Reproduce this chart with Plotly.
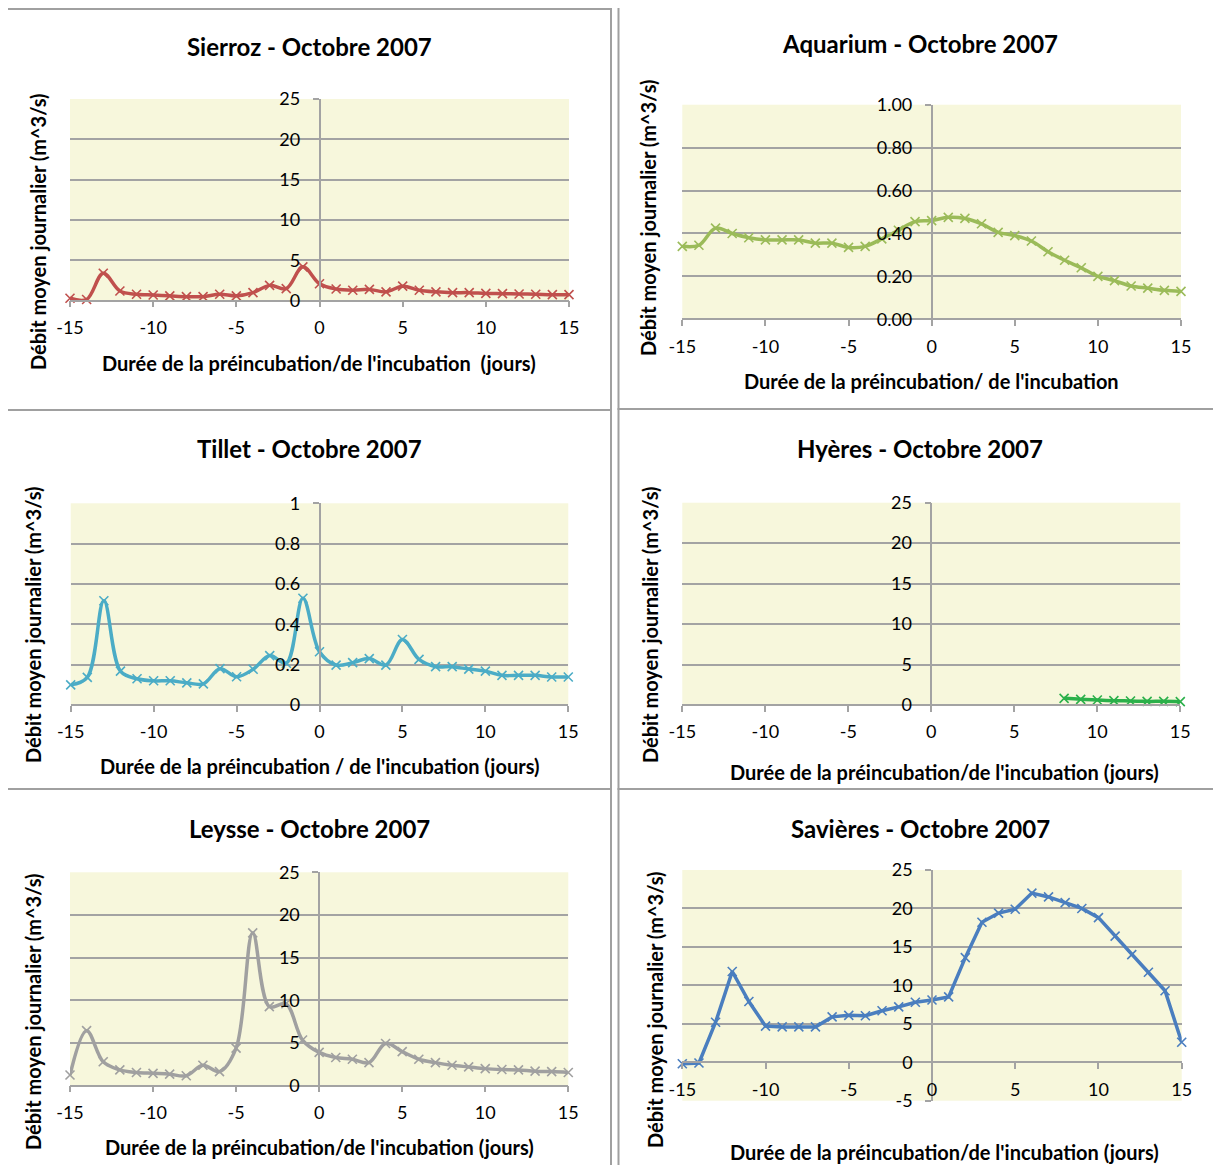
import plotly.graph_objects as go

W, H = 1221, 1165
OFF = 8  # page body margin of the HTML page
FW, FH = W - OFF, H - OFF

days = list(range(-15, 16))
x_ticks = [-15, -10, -5, 0, 5, 10, 15]

sierroz = [0.3, 0.15, 3.4, 1.2, 0.8, 0.7, 0.6, 0.5, 0.5, 0.8, 0.6, 1.0, 1.9, 1.5, 4.2,
           2.1, 1.45, 1.3, 1.4, 1.1, 1.8, 1.3, 1.1, 1.0, 1.0, 0.9, 0.87, 0.83, 0.8, 0.75, 0.75]
aquarium = [0.34, 0.345, 0.425, 0.40, 0.38, 0.37, 0.37, 0.37, 0.355, 0.355, 0.335, 0.34, 0.375, 0.415, 0.455,
            0.46, 0.475, 0.47, 0.445, 0.405, 0.39, 0.365, 0.315, 0.275, 0.24, 0.20, 0.18, 0.155, 0.145, 0.135, 0.13]
tillet = [0.10, 0.137, 0.517, 0.168, 0.13, 0.12, 0.12, 0.11, 0.105, 0.18, 0.14, 0.177, 0.245, 0.207, 0.529,
          0.264, 0.198, 0.21, 0.23, 0.198, 0.325, 0.226, 0.19, 0.19, 0.178, 0.168, 0.147, 0.147, 0.147, 0.139, 0.139]
hyeres_days = [8, 9, 10, 11, 12, 13, 14, 15]
hyeres = [0.82, 0.7, 0.62, 0.54, 0.5, 0.45, 0.45, 0.41]
leysse = [1.25, 6.45, 2.8, 1.85, 1.55, 1.45, 1.35, 1.17, 2.4, 1.65, 4.4, 17.9, 9.26, 9.6, 5.35,
          3.9, 3.3, 3.1, 2.7, 4.95, 4.0, 3.1, 2.7, 2.4, 2.2, 2.0, 1.9, 1.85, 1.7, 1.65, 1.55]
savieres = [-0.2, -0.1, 5.2, 11.8, 7.9, 4.7, 4.6, 4.6, 4.6, 5.9, 6.1, 6.05, 6.7, 7.2, 7.8,
            8.1, 8.5, 13.6, 18.2, 19.4, 19.9, 22.0, 21.5, 20.75, 20.0, 18.8, 16.4, 14.0, 11.7, 9.3, 2.6]

y_ticks_25 = [0, 5, 10, 15, 20, 25]
y_ticks_1 = [0, 0.2, 0.4, 0.6, 0.8, 1]
y_ticks_sav = [-5, 0, 5, 10, 15, 20, 25]

titles = ["Sierroz - Octobre 2007", "Aquarium - Octobre 2007", "Tillet - Octobre 2007",
          "Hyères - Octobre 2007", "Leysse - Octobre 2007", "Savières - Octobre 2007"]
x_titles = ["Durée de la préincubation/de l'incubation  (jours)",
            "Durée de la préincubation/ de l'incubation",
            "Durée de la préincubation / de l'incubation (jours)",
            "Durée de la préincubation/de l'incubation (jours)",
            "Durée de la préincubation/de l'incubation (jours)",
            "Durée de la préincubation/de l'incubation (jours)"]
y_title = "Débit moyen journalier (m^3/s)"

series = [
    (days, sierroz, "#C0504D", "spline", [0, 25], y_ticks_25, "{:g}"),
    (days, aquarium, "#9BBB59", "spline", [0, 1], y_ticks_1, "{:.2f}"),
    (days, tillet, "#4BACC6", "spline", [0, 1], y_ticks_1, "{:g}"),
    (hyeres_days, hyeres, "#2BB04A", "spline", [0, 25], y_ticks_25, "{:g}"),
    (days, leysse, "#A0A0A0", "spline", [0, 25], y_ticks_25, "{:g}"),
    (days, savieres, "#4A7EBF", "linear", [-5, 25], y_ticks_sav, "{:g}"),
]

# layout geometry (page pixels): plot box x0, x1, ytop, ybottom
boxes = [(70, 569, 99, 300.7), (682.3, 1181, 104.7, 319.3), (70.7, 568.3, 503.3, 705),
         (682.3, 1180.3, 502.7, 705), (70, 568.3, 872.3, 1085.7), (682.3, 1181.7, 870, 1100.7)]
title_pos = [(309, 47), (920, 43), (309, 448), (920, 448), (309, 828), (920, 828)]
xt_pos = [(319, 363), (931, 381), (319, 766), (944, 772), (319, 1147), (944, 1152)]
yt_pos = [(38, 232), (648, 218), (33, 625), (650, 625), (33, 1012), (655, 1010)]
frames = [(6.5, 9, 611, 410), (618.5, 6, 1225, 409), (6.5, 410, 611, 789),
          (618.5, 409, 1225, 789), (6.5, 789, 611, 1170), (618.5, 789, 1225, 1170)]

FONT = "Lato"
GRID = "#A3A3A3"


def px(x):
    return (x - OFF) / FW


def py(y):
    return 1 - (y - OFF) / FH


fig = go.Figure()
layout = dict(width=FW, height=FH, autosize=False, margin=dict(l=0, r=0, t=0, b=0, pad=0),
              paper_bgcolor="white", plot_bgcolor="#F7F7DC", showlegend=False,
              font=dict(family=FONT, color="black"))
annotations = []
shapes = []

for i, (xs, ys, col, shp, yr, yt_vals, fmt) in enumerate(series):
    n = "" if i == 0 else str(i + 1)
    x0, x1, yt, yb = boxes[i]
    fig.add_trace(go.Scatter(
        x=xs, y=ys, mode="lines+markers", xaxis="x" + n, yaxis="y" + n,
        line=dict(color=col, width=3.5, shape=shp, smoothing=1.0),
        marker=dict(symbol="x-thin", size=9, line=dict(color=col, width=1.6)),
        cliponaxis=False))
    zero_x = x0 + (0 - (-15)) / 30 * (x1 - x0)
    zero_y = yb - (0 - yr[0]) / (yr[1] - yr[0]) * (yb - yt)
    layout["xaxis" + n] = dict(
        domain=[px(x0), px(x1)], range=[-15, 15], tickvals=x_ticks,
        ticktext=[str(v) for v in x_ticks], automargin=False,
        anchor="free", position=py(zero_y), showgrid=False, zeroline=False,
        showline=True, linecolor=GRID, linewidth=1.5,
        ticks="outside", ticklen=6, tickcolor=GRID, tickwidth=1.5,
        ticklabelstandoff=5, tickfont=dict(size=18, family=FONT, color="black"),
        fixedrange=True)
    layout["yaxis" + n] = dict(
        domain=[py(yb), py(yt)], range=yr, tickvals=yt_vals,
        ticktext=[fmt.format(v) for v in yt_vals], automargin=False,
        anchor="free", position=px(zero_x), showgrid=True, gridcolor=GRID, gridwidth=1.5,
        zeroline=False, showline=True, linecolor=GRID, linewidth=1.5,
        ticks="outside", ticklen=6, tickcolor=GRID, tickwidth=1.5,
        ticklabelstandoff=9, tickfont=dict(size=18, family=FONT, color="black"),
        fixedrange=True)
    annotations.append(dict(text="<b>%s</b>" % titles[i], x=px(title_pos[i][0]), y=py(title_pos[i][1]),
                            xref="paper", yref="paper", xanchor="center", yanchor="middle",
                            showarrow=False, font=dict(size=24, family=FONT, color="black")))
    annotations.append(dict(text="<b>%s</b>" % x_titles[i], x=px(xt_pos[i][0]), y=py(xt_pos[i][1]),
                            xref="paper", yref="paper", xanchor="center", yanchor="middle",
                            showarrow=False, font=dict(size=20, family=FONT, color="black")))
    annotations.append(dict(text="<b>%s</b>" % y_title, x=px(yt_pos[i][0]), y=py(yt_pos[i][1]),
                            xref="paper", yref="paper", xanchor="center", yanchor="middle",
                            textangle=-90, showarrow=False,
                            font=dict(size=20, family=FONT, color="black")))
    fx0, fy0, fx1, fy1 = frames[i]
    shapes.append(dict(type="rect", xref="paper", yref="paper", x0=px(fx0), x1=px(fx1),
                       y0=py(fy1), y1=py(fy0), line=dict(color="#A0A0A0", width=2),
                       fillcolor="rgba(0,0,0,0)", layer="below"))

layout["annotations"] = annotations
layout["shapes"] = shapes
fig.update_layout(**layout)
fig.write_html("out.html")
